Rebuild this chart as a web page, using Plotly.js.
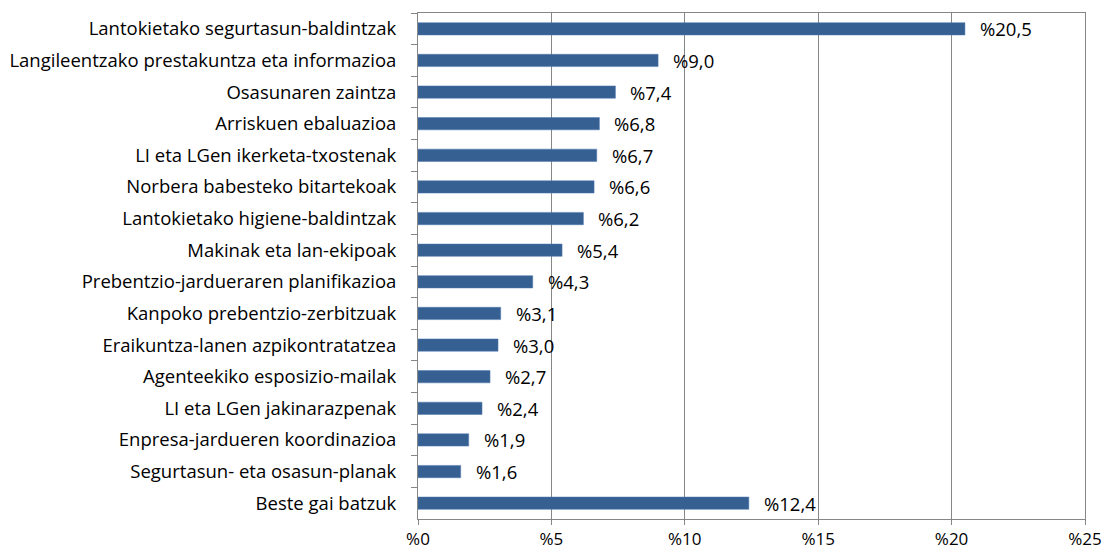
<!DOCTYPE html>
<html>
<head>
<meta charset="utf-8">
<script src="https://cdn.plot.ly/plotly-3.0.1.min.js"></script>
<style>html,body{margin:0;padding:0;background:#fff;}#chart{width:1105px;height:554px;}</style>
</head>
<body>
<div id="chart"></div>
<script>
const categories = [
  "Lantokietako segurtasun-baldintzak",
  "Langileentzako prestakuntza eta informazioa",
  "Osasunaren zaintza",
  "Arriskuen ebaluazioa",
  "LI eta LGen ikerketa-txostenak",
  "Norbera babesteko bitartekoak",
  "Lantokietako higiene-baldintzak",
  "Makinak eta lan-ekipoak",
  "Prebentzio-jardueraren planifikazioa",
  "Kanpoko prebentzio-zerbitzuak",
  "Eraikuntza-lanen azpikontratatzea",
  "Agenteekiko esposizio-mailak",
  "LI eta LGen jakinarazpenak",
  "Enpresa-jardueren koordinazioa",
  "Segurtasun- eta osasun-planak",
  "Beste gai batzuk"
];
const values = [20.5, 9.0, 7.4, 6.8, 6.7, 6.6, 6.2, 5.4, 4.3, 3.1, 3.0, 2.7, 2.4, 1.9, 1.6, 12.4];
const xTicks = [0, 5, 10, 15, 20, 25];

const labels = values.map(v => '%' + v.toFixed(1).replace('.', ','));
const FONT = "Open Sans, sans-serif";
const FS = 18.5;
const gray = '#868686';

const trace = {
  type: 'bar',
  orientation: 'h',
  y: categories,
  x: values,
  width: 0.39,
  marker: {color: '#376092', line: {color: '#4f7bb3', width: 0.5}},
  hoverinfo: 'none'
};

const annotations = values.map((v, i) => ({
  x: v, y: categories[i], xref: 'x', yref: 'y',
  text: labels[i], showarrow: false, xanchor: 'left', xshift: 13,
  font: {family: FONT, size: FS, color: '#000'}
}));

const layout = {
  width: 1105, height: 554,
  margin: {l: 418, r: 20, t: 13, b: 35},
  paper_bgcolor: '#fff', plot_bgcolor: '#fff',
  showlegend: false,
  font: {family: FONT, size: FS, color: '#000'},
  xaxis: {
    range: [0, 25], tickvals: xTicks, ticktext: xTicks.map(t => '%' + t),
    showgrid: true, gridcolor: gray, gridwidth: 1,
    showline: true, linecolor: gray, linewidth: 1, mirror: true,
    ticks: 'outside', ticklen: 5, tickcolor: gray,
    ticklabelstandoff: 0,
    zeroline: false, fixedrange: true,
    tickfont: {family: FONT, size: 17, color: '#000'}
  },
  yaxis: {
    autorange: 'reversed', type: 'category',
    showline: true, linecolor: gray, linewidth: 1, mirror: true,
    ticks: 'outside', ticklen: 6, tickcolor: gray, tickson: 'boundaries',
    ticklabelstandoff: 17,
    showgrid: false, zeroline: false, fixedrange: true,
    tickfont: {family: FONT, size: FS, color: '#000'}
  },
  annotations: annotations
};

Plotly.newPlot('chart', [trace], layout, {displayModeBar: false, staticPlot: true});
</script>
</body>
</html>
